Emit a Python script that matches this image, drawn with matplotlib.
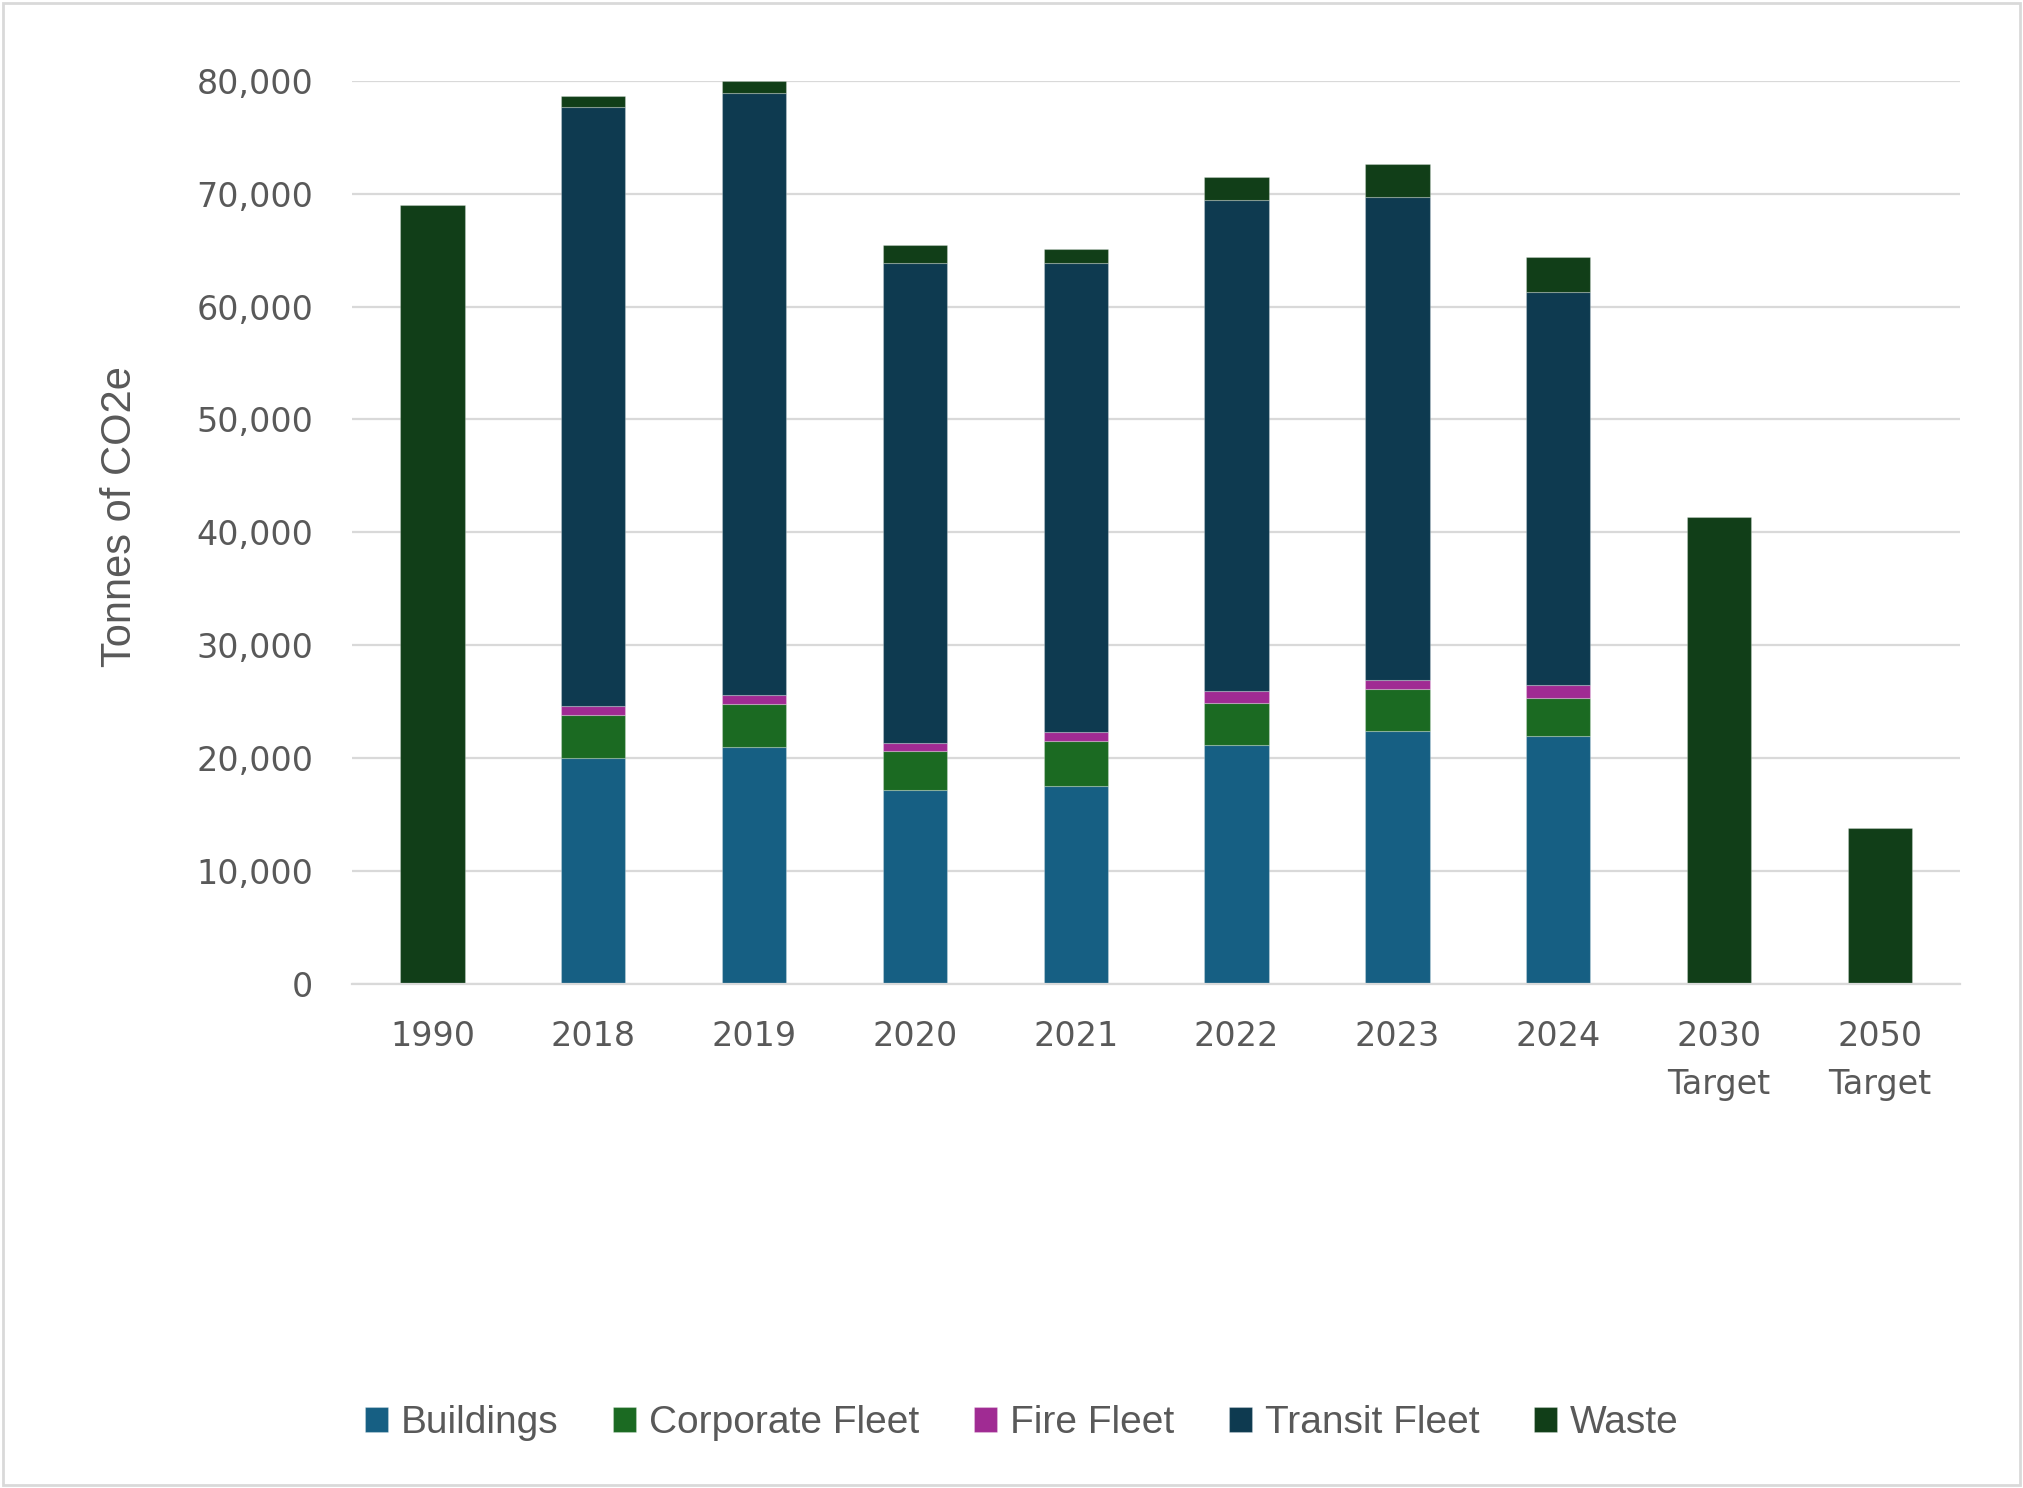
#!/usr/bin/env python3
"""Stacked bar chart: corporate GHG emissions by source, 1990 baseline to 2050 target."""

import matplotlib

matplotlib.use("Agg")
import matplotlib.pyplot as plt
import numpy as np
from matplotlib.patches import Rectangle
from matplotlib.ticker import FuncFormatter

categories = ["1990", "2018", "2019", "2020", "2021", "2022", "2023", "2024",
              "2030\nTarget", "2050\nTarget"]

buildings = [0, 20000, 20980, 17180, 17510, 21120, 22420, 21950, 0, 0]
corporate_fleet = [0, 3780, 3820, 3440, 3970, 3790, 3670, 3340, 0, 0]
fire_fleet = [0, 860, 820, 740, 860, 980, 840, 1130, 0, 0]
transit_fleet = [0, 53090, 53350, 42540, 41560, 43540, 42770, 34880, 0, 0]
waste = [69000, 910, 1030, 1600, 1240, 2070, 2920, 3130, 41380, 13800]

series = [
    ("Buildings", buildings, "#165F83"),
    ("Corporate Fleet", corporate_fleet, "#1B6A22"),
    ("Fire Fleet", fire_fleet, "#A02B93"),
    ("Transit Fleet", transit_fleet, "#0E3A50"),
    ("Waste", waste, "#113E18"),
]

TEXT = "#595959"
GRID = "#D9D9D9"


def main():
    fig = plt.figure(figsize=(20.23, 14.88), dpi=100)
    ax = fig.add_axes([0.174, 0.339, 0.795, 0.6066])

    x = np.arange(len(categories))
    bottom = np.zeros(len(categories))
    for label, vals, color in series:
        vals = np.asarray(vals, dtype=float)
        ax.bar(x, vals, width=0.4, bottom=bottom, color=color, label=label,
               edgecolor=(1, 1, 1, 0.25), linewidth=0.8, zorder=3, clip_on=False)
        bottom += vals

    ax.set_xlim(-0.5, len(categories) - 0.5)
    ax.set_ylim(0, 80000)
    ax.set_yticks(np.arange(0, 80001, 10000))
    ax.yaxis.set_major_formatter(FuncFormatter(lambda v, _: f"{v:,.0f}"))
    ax.set_xticks(x)
    ax.set_xticklabels(categories, linespacing=1.6)

    ax.grid(axis="y", color=GRID, linewidth=1.6, zorder=0)
    for side in ("top", "right", "left"):
        ax.spines[side].set_visible(False)
    ax.spines["bottom"].set_color(GRID)
    ax.spines["bottom"].set_linewidth(1.6)
    ax.spines["bottom"].set_zorder(4)

    ax.tick_params(axis="both", length=0, labelsize=24, labelcolor=TEXT)
    ax.tick_params(axis="y", pad=28)
    ax.tick_params(axis="x", pad=26)
    for t in ax.get_xticklabels() + ax.get_yticklabels():
        t.set_family("DejaVu Sans")

    ax.set_ylabel("Tonnes of CO2e", fontsize=30, color=TEXT, family="Liberation Sans")
    ax.yaxis.set_label_coords(-0.132, 0.517)

    fig.legend(
        loc="center",
        bbox_to_anchor=(0.505, 0.0435),
        ncol=5,
        frameon=False,
        prop={"family": "Liberation Sans", "size": 28},
        labelcolor=TEXT,
        handlelength=0.6,
        handleheight=0.6,
        handletextpad=0.33,
        columnspacing=1.4,
    )

    fig.patches.append(Rectangle((0.0015, 0.002), 0.997, 0.996, transform=fig.transFigure,
                                 fill=False, edgecolor=GRID, linewidth=2))

    fig.savefig("out.png", dpi=100, facecolor="white")
    plt.close(fig)


if __name__ == "__main__":
    main()
